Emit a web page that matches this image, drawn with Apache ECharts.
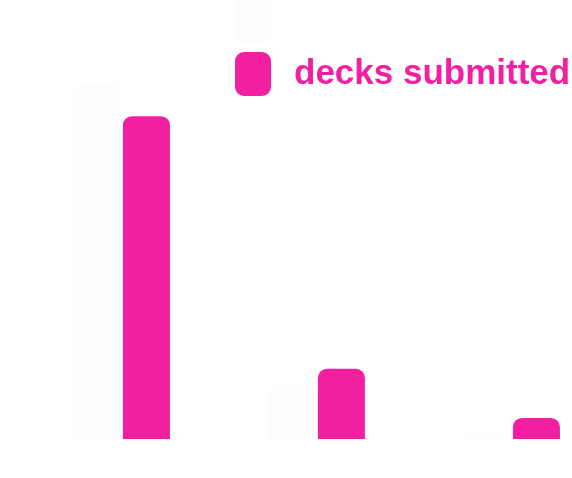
<!DOCTYPE html>
<html>
<head>
<meta charset="utf-8">
<script src="https://cdn.jsdelivr.net/npm/echarts@6/dist/echarts.min.js"></script>
<style>
html,body{margin:0;padding:0;background:#ffffff;}
#chart{width:572px;height:478px;}
</style>
</head>
<body>
<div id="chart"></div>
<script>
const categories = ['A', 'B', 'C'];
const otherName = 'decks reviewed';
const otherValues = [50.7, 7.7, 0.4];
const submittedName = 'decks submitted';
const submittedValues = [46, 10, 3];

const pink = '#f21fa0';
const offWhite = '#fdfdfd';

const chart = echarts.init(document.getElementById('chart'), null, {renderer: 'canvas'});
chart.setOption({
  backgroundColor: '#ffffff',
  animation: false,
  legend: {
    orient: 'vertical',
    left: 235,
    top: -1,
    padding: 0,
    itemWidth: 36,
    itemHeight: 44,
    itemGap: 9,
    icon: 'roundRect',
    textStyle: {
      fontFamily: 'Liberation Sans, Arial, sans-serif',
      fontWeight: 'bold',
      fontSize: 35,
      padding: [0, 0, 0, 18]
    },
    data: [
      {name: otherName, textStyle: {color: '#ffffff'}},
      {name: submittedName, textStyle: {color: pink}}
    ]
  },
  grid: {left: 24, right: -37, top: 18, bottom: 39, outerBoundsMode: 'none', containLabel: false},
  xAxis: {
    type: 'category',
    data: categories,
    show: false
  },
  yAxis: {
    type: 'value',
    min: 0,
    max: 60,
    show: false,
    splitLine: {show: false}
  },
  series: [
    {
      name: otherName,
      type: 'bar',
      data: otherValues,
      barWidth: 47,
      barGap: '6%',
      itemStyle: {color: offWhite, borderRadius: [9, 9, 0, 0]}
    },
    {
      name: submittedName,
      type: 'bar',
      data: submittedValues,
      barWidth: 47,
      barGap: '6%',
      itemStyle: {color: pink, borderRadius: [9, 9, 0, 0]}
    }
  ]
});
</script>
</body>
</html>
